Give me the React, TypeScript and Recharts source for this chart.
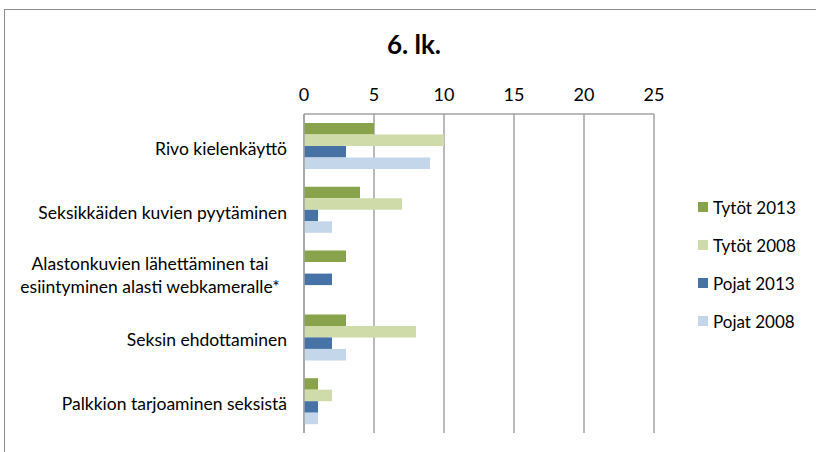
import React from "react";
import { Bar, BarChart, CartesianGrid, XAxis, YAxis } from "recharts";

const KATEGORIAT = [
  "Rivo kielenkäyttö",
  "Seksikkäiden kuvien pyytäminen",
  "Alastonkuvien lähettäminen tai\nesiintyminen alasti webkameralle*",
  "Seksin ehdottaminen",
  "Palkkion tarjoaminen seksistä",
];
const TYTOT_2013 = [5, 4, 3, 3, 1];
const TYTOT_2008 = [10, 7, null, 8, 2];
const POJAT_2013 = [3, 1, 2, 2, 1];
const POJAT_2008 = [9, 2, null, 3, 1];
const TIKIT = [0, 5, 10, 15, 20, 25];

const SARJAT = [
  { key: "t13", nimi: "Tytöt 2013", vari: "#89a24c" },
  { key: "t08", nimi: "Tytöt 2008", vari: "#cfdcaa" },
  { key: "p13", nimi: "Pojat 2013", vari: "#4672a5" },
  { key: "p08", nimi: "Pojat 2008", vari: "#c4d7ea" },
];

const dados = KATEGORIAT.map((k, i) => ({
  kategoria: k,
  t13: TYTOT_2013[i],
  t08: TYTOT_2008[i],
  p13: POJAT_2013[i],
  p08: POJAT_2008[i],
}));

const FONTTI = "Lato, 'Open Sans', sans-serif";
const VIIVA = "#a3a3a3";

function KategoriaTick({ x, y, payload }: any) {
  const rivit = String(payload.value).split("\n");
  if (rivit.length === 1) {
    return (
      <text x={x} y={y} dy={9} textAnchor="end" fontSize={17.5} fill="#000" fontFamily={FONTTI}>
        {rivit[0]}
      </text>
    );
  }
  return (
    <text x={x - 137} y={y} textAnchor="middle" fontSize={17.5} fill="#000" fontFamily={FONTTI}>
      {rivit.map((r, i) => (
        <tspan key={i} x={x - 137} y={y - 3.5 + i * 23}>
          {r}
        </tspan>
      ))}
    </text>
  );
}

function Selite() {
  return (
    <div
      style={{
        position: "absolute",
        left: 698,
        top: 188,
        fontFamily: FONTTI,
        fontSize: 17,
        color: "#000",
      }}
    >
      {SARJAT.map((s) => (
        <div key={s.key} style={{ display: "flex", alignItems: "center", height: 38 }}>
          <span
            style={{ display: "inline-block", width: 10, height: 10, background: s.vari, marginRight: 5 }}
          />
          {s.nimi}
        </div>
      ))}
    </div>
  );
}

export default function App() {
  return (
    <div
      style={{
        position: "absolute",
        left: 0,
        top: 0,
        width: 816,
        height: 452,
        background: "#fff",
        overflow: "hidden",
      }}
    >
      <div
        style={{
          position: "absolute",
          left: 4,
          top: 9,
          width: 830,
          height: 460,
          borderLeft: "1px solid #8c8c8c",
          borderTop: "1px solid #8c8c8c",
        }}
      />
      <div
        style={{
          position: "absolute",
          left: 314,
          width: 200,
          top: 28,
          textAlign: "center",
          fontFamily: FONTTI,
          fontWeight: 700,
          fontSize: 26,
        }}
      >
        6. lk.
      </div>
      <div style={{ position: "absolute", left: 0, top: 0 }}>
        <BarChart
          width={816}
          height={452}
          data={dados}
          layout="vertical"
          barGap={0}
          barSize={11.5}
          margin={{ top: 84, right: 162, left: 4, bottom: 19 }}
        >
          <CartesianGrid stroke={VIIVA} strokeWidth={1.5} horizontal={false} />
          <XAxis
            type="number"
            orientation="top"
            domain={[0, 25]}
            ticks={TIKIT}
            height={30}
            tickSize={0}
            tickMargin={13}
            tickLine={false}
            axisLine={{ stroke: VIIVA, strokeWidth: 1.5 }}
            tick={{ fontSize: 18, fill: "#000", fontFamily: FONTTI }}
          />
          <YAxis
            type="category"
            dataKey="kategoria"
            width={300}
            tickSize={0}
            tickMargin={17}
            tickLine={false}
            axisLine={{ stroke: VIIVA, strokeWidth: 1.5 }}
            tick={<KategoriaTick />}
            interval={0}
          />
          {SARJAT.map((s) => (
            <Bar key={s.key} dataKey={s.key} name={s.nimi} fill={s.vari} isAnimationActive={false} />
          ))}
        </BarChart>
      </div>
      <Selite />
    </div>
  );
}
